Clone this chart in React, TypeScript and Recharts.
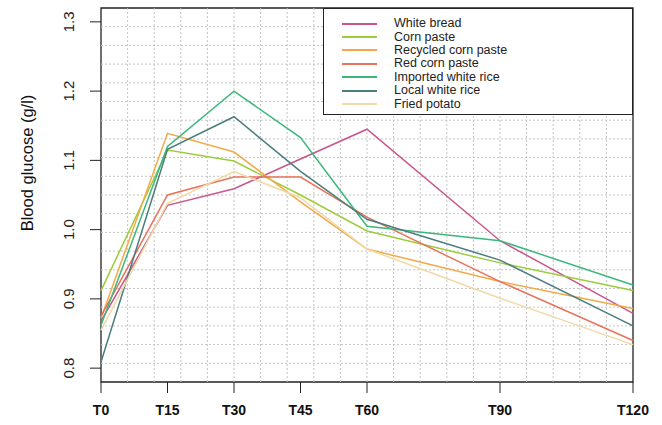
import React from "react";
import { LineChart, Line, XAxis, YAxis, ReferenceLine, ReferenceArea, Legend } from "recharts";

// sampling times in minutes
const times = [0, 15, 30, 45, 60, 90, 120];

const whiteBread = [0.868, 1.035, 1.059, 1.102, 1.145, 0.984, 0.879];
const cornPaste = [0.912, 1.115, 1.099, 1.05, 0.998, 0.952, 0.912];
const recycledCornPaste = [0.872, 1.139, 1.112, 1.04, 0.972, 0.925, 0.886];
const redCornPaste = [0.875, 1.05, 1.076, 1.076, 1.018, 0.925, 0.84];
const importedWhiteRice = [0.862, 1.12, 1.2, 1.133, 1.005, 0.984, 0.92];
const localWhiteRice = [0.809, 1.116, 1.163, 1.084, 1.015, 0.956, 0.861];
const friedPotato = [0.855, 1.038, 1.084, 1.046, 0.972, 0.901, 0.834];

const yTicks = [0.8, 0.9, 1.0, 1.1, 1.2, 1.3];
const yDomain = [0.78, 1.32];

const series = [
  { key: "wb", name: "White bread", values: whiteBread, color: "#c9568a" },
  { key: "cp", name: "Corn paste", values: cornPaste, color: "#9ccc3c" },
  { key: "rcp", name: "Recycled corn paste", values: recycledCornPaste, color: "#f3a948" },
  { key: "red", name: "Red corn paste", values: redCornPaste, color: "#e8735a" },
  { key: "iwr", name: "Imported white rice", values: importedWhiteRice, color: "#3db77c" },
  { key: "lwr", name: "Local white rice", values: localWhiteRice, color: "#4b7d7d" },
  { key: "fp", name: "Fried potato", values: friedPotato, color: "#f2d9a6" },
];

const data = times.map((t, i) => {
  const row: any = { t };
  series.forEach((s) => (row[s.key] = s.values[i]));
  return row;
});

// R-style grid(20, 20) over the plot region
const gridX = Array.from({ length: 19 }, (_, i) => (i + 1) * 6);
const gridY = Array.from({ length: 19 }, (_, i) => yDomain[0] + ((i + 1) * (yDomain[1] - yDomain[0])) / 20);

const font = "'Liberation Sans', Arial, sans-serif";

const YTick = ({ y, payload }: any) => (
  <text
    transform={`translate(68,${y}) rotate(-90)`}
    textAnchor="middle"
    dominantBaseline="central"
    fontSize={15}
    fill="#222"
    fontFamily={font}
  >
    {Number(payload.value).toFixed(1)}
  </text>
);

const yLabel = () => (
  <text
    x={27}
    y={163}
    transform="rotate(-90, 27, 163)"
    textAnchor="middle"
    dominantBaseline="central"
    fontSize={16.5}
    fill="#111"
    fontFamily={font}
  >
    Blood glucose (g/l)
  </text>
);

const renderLegend = () => (
  <div
    style={{
      width: 310,
      height: 107,
      boxSizing: "border-box",
      border: "1.3px solid #222",
      background: "#fff",
      paddingTop: 8,
      fontFamily: font,
      fontSize: 12.5,
      color: "#222",
    }}
  >
    {series.map((s) => (
      <div key={s.key} style={{ display: "flex", alignItems: "center", height: 13.4 }}>
        <div style={{ width: 35, height: 2, background: s.color, marginLeft: 18, marginRight: 17 }} />
        <span style={{ lineHeight: "13px" }}>{s.name}</span>
      </div>
    ))}
  </div>
);

export default function App() {
  return (
    <div style={{ position: "absolute", left: 0, top: 0, background: "#fff" }}>
      <LineChart
        width={662}
        height={425}
        data={data}
        margin={{ top: 8, right: 29, bottom: 0, left: 0 }}
        style={{ fontFamily: font }}
      >
        {gridX.map((v) => (
          <ReferenceLine key={`gx${v}`} x={v} stroke="#c4c4c4" strokeDasharray="2 2" />
        ))}
        {gridY.map((v) => (
          <ReferenceLine key={`gy${v}`} y={v} stroke="#c4c4c4" strokeDasharray="2 2" />
        ))}
        <XAxis
          dataKey="t"
          type="number"
          domain={[0, 120]}
          ticks={times}
          tickFormatter={(v) => `T${v}`}
          height={43}
          tickSize={11}
          tickMargin={12}
          axisLine={false}
          tickLine={{ stroke: "#222" }}
          tick={{ fontSize: 14, fontWeight: "bold", fill: "#111", fontFamily: font }}
        />
        <YAxis
          type="number"
          domain={yDomain}
          ticks={yTicks}
          width={101}
          tickSize={11}
          axisLine={false}
          tickLine={{ stroke: "#222" }}
          tick={<YTick />}
          label={yLabel}
        />
        <ReferenceArea x1={0} x2={120} y1={yDomain[0]} y2={yDomain[1]} fill="none" stroke="#222" strokeWidth={1.3} />
        {series.map((s) => (
          <Line
            key={s.key}
            type="linear"
            dataKey={s.key}
            name={s.name}
            stroke={s.color}
            strokeWidth={1.5}
            dot={false}
            isAnimationActive={false}
          />
        ))}
        <Legend
          layout="vertical"
          align="center"
          verticalAlign="middle"
          content={renderLegend}
          wrapperStyle={{ position: "absolute", top: 8, left: 323, width: 310, height: 107 }}
        />
      </LineChart>
    </div>
  );
}
